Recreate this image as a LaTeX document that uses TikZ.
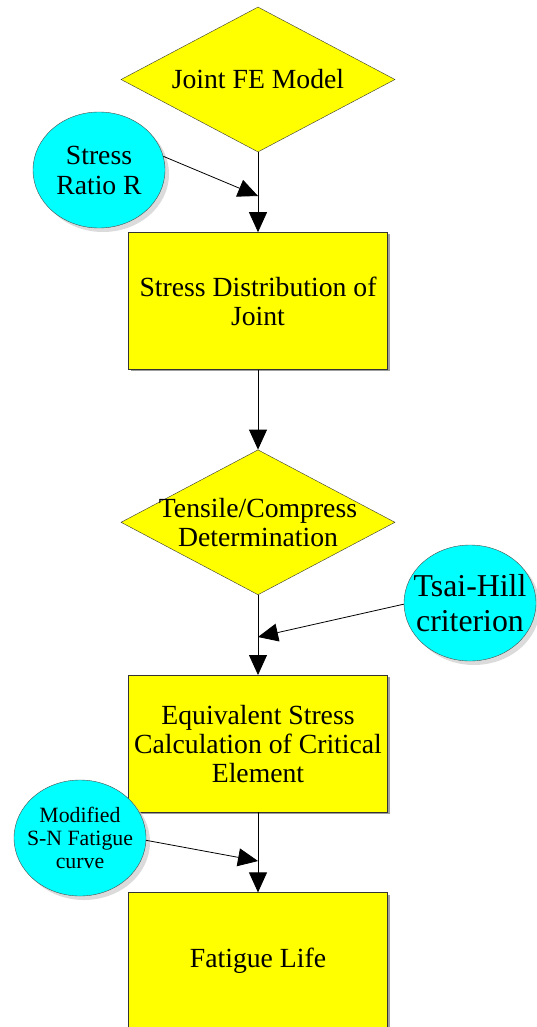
\documentclass[tikz,border=0pt]{standalone}
\usepackage{fontspec}
\setmainfont{Liberation Serif}
\usepackage{tikz}
\usetikzlibrary{arrows.meta, positioning, shapes.geometric, shadows}
\definecolor{boxyellow}{RGB}{255,255,0}
\definecolor{inputcyan}{RGB}{0,255,255}
\tikzset{
	every node/.style={
		align=center,
	},
}
\tikzstyle{decision} = [diamond, draw=black!80, fill=boxyellow, minimum width=274pt, minimum height=145pt, inner sep=0pt, aspect=1.89]
\tikzstyle{decision text} = [font=\fontsize{27.7}{29}\selectfont]
\tikzstyle{process} = [rectangle, draw=black!80, fill=boxyellow, minimum width=259pt, minimum height=137pt, inner sep=0pt, font=\fontsize{27.7}{29}\selectfont, drop shadow={shadow xshift=2pt, shadow yshift=-2pt, fill=black!55, opacity=0.7}]
\tikzstyle{input} = [ellipse, draw=black!70, fill=inputcyan, minimum width=132pt, minimum height=116pt, inner sep=-30pt, font=\fontsize{27.7}{30}\selectfont, drop shadow={shadow xshift=4pt, shadow yshift=-4pt, fill=black!20, opacity=0.7}]
\tikzstyle{flow} = [-{Triangle[length=20pt,width=18pt]}, line width=0.8pt, black]

\begin{document}
\begin{tikzpicture}[x=1pt, y=1pt]
        \useasboundingbox (0,0) rectangle (536,-1027);
        % main column
        \node[decision, label={[decision text]center:Joint FE Model}] (model) at (258,-79.5) {};
        \node[process, below=80pt of model] (distribution) {Stress Distribution of\\Joint};
        \node[decision, below=80pt of distribution, label={[decision text]center:Tensile/Compress\\Determination}] (tension) {};
        \node[process, below=80pt of tension] (equivalent) {Equivalent Stress\\Calculation of Critical\\Element};
        \node[process, below=80pt of equivalent] (life) {Fatigue Life};
        % inputs
        \node[input] (ratio) at (99,-170) {Stress\\Ratio R};
        \node[input, font=\fontsize{31.8}{35}\selectfont] (tsai) at (470,-603) {Tsai-Hill\\criterion};
        \node[input, font=\fontsize{21.8}{23}\selectfont] (sn) at (80,-838) {Modified\\S-N Fatigue\\curve};
        \coordinate (ratio-in) at (258,-196);
        \coordinate (tsai-in) at (258,-637);
        \coordinate (sn-in) at (258,-861);
        \draw[flow] (model.south) -- (distribution.north);
        \draw[flow] (distribution.south) -- (tension.north);
        \draw[flow] (tension.south) -- (equivalent.north);
        \draw[flow] (equivalent.south) -- (life.north);
        \draw[flow] (ratio.12) -- (ratio-in);
        \draw[flow] (tsai.181) -- (tsai-in);
        \draw[flow] (sn.-2) -- (sn-in);
\end{tikzpicture}
\end{document}
